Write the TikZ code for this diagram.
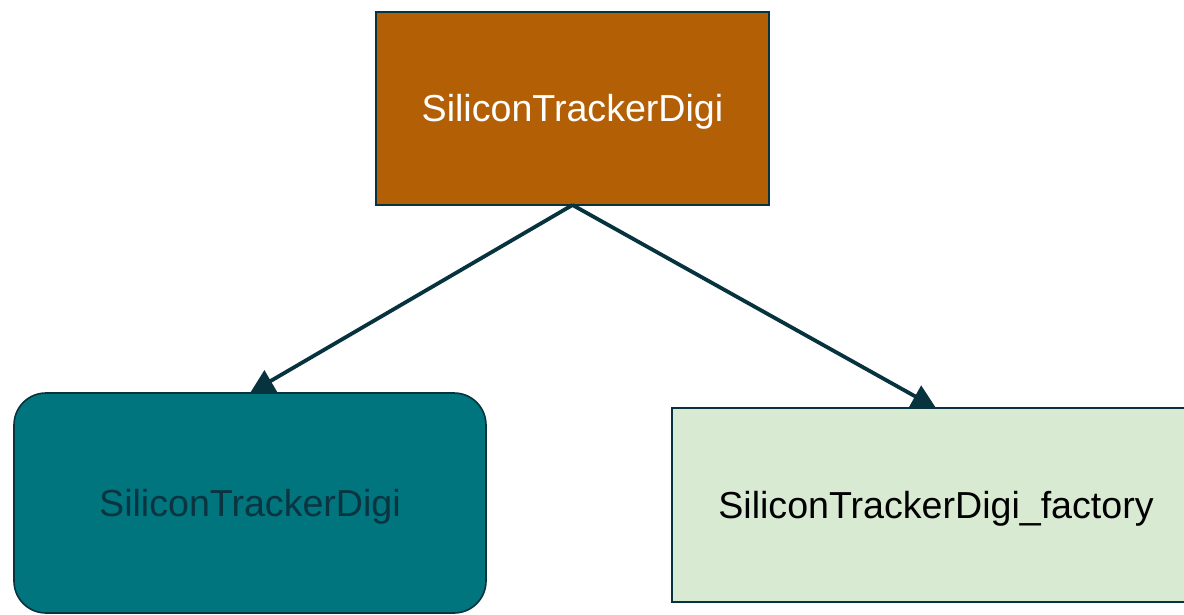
\documentclass[tikz,border=0pt]{standalone}
\usepackage{fontspec}
\setmainfont{Liberation Sans}
\usetikzlibrary{arrows.meta}
\definecolor{edgeclr}{HTML}{07333F}
\definecolor{rustfill}{HTML}{B35F06}
\definecolor{tealfill}{HTML}{00757E}
\definecolor{mintfill}{HTML}{D9EAD3}
\definecolor{tealtext}{HTML}{0A3440}
\tikzset{
  box/.style={draw=edgeclr, line width=1.6pt, inner sep=0pt, outer sep=0pt,
    font=\fontsize{37.6}{40}\selectfont, text height=27pt, text depth=0pt},
  link/.style={draw=edgeclr, line width=3.8pt,
    -{Triangle[length=24pt,width=24pt]}},
}
\begin{document}
\begin{tikzpicture}[x=1pt, y=-1pt]
  \useasboundingbox (0,0) rectangle (1184,615);
  \clip (0,0) rectangle (1184,615);
  \fill[white] (0,0) rectangle (1184,615);
  \node[box, fill=rustfill, text=white, minimum width=393pt, minimum height=193pt]
    (src) at (572.5,108.5) {SiliconTrackerDigi};
  \node[box, fill=tealfill, text=tealtext, rounded corners=32pt,
    minimum width=472pt, minimum height=220pt]
    (coll) at (250,503) {SiliconTrackerDigi};
  \node[box, fill=mintfill, text=black, minimum width=528pt, minimum height=194pt]
    (fac) at (936,505) {SiliconTrackerDigi\_factory};
  \draw[link] (src.south) -- (coll.north);
  \draw[link] (src.south) -- (fac.north);
\end{tikzpicture}
\end{document}
